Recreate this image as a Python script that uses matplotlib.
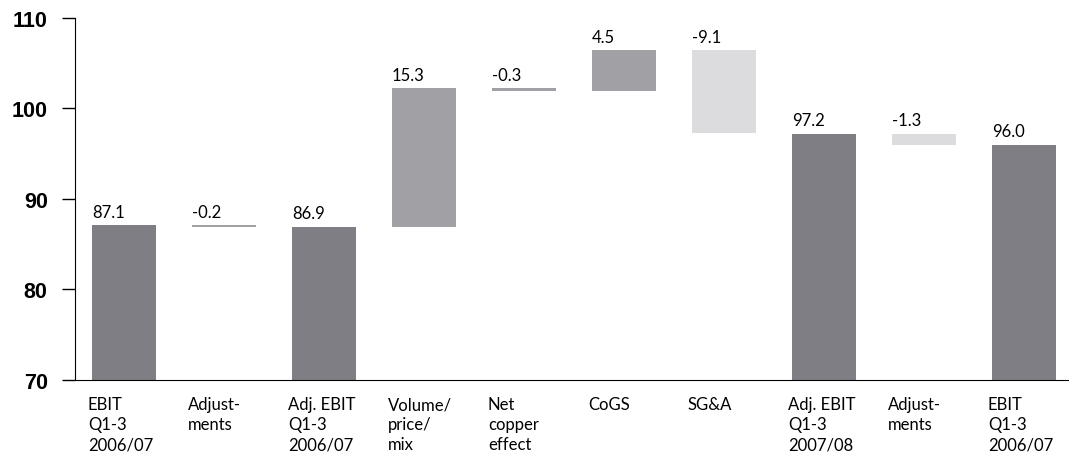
import matplotlib.pyplot as plt

# categories and values (EBIT bridge, EUR m)
categories = ["EBIT\nQ1-3\n2006/07", "Adjust-\nments", "Adj. EBIT\nQ1-3\n2006/07",
              "Volume/\nprice/\nmix", "Net\ncopper\neffect", "CoGS", "SG&A",
              "Adj. EBIT\nQ1-3\n2007/08", "Adjust-\nments", "EBIT\nQ1-3\n2006/07"]
values = [87.1, -0.2, 86.9, 15.3, -0.3, 4.5, -9.1, 97.2, -1.3, 96.0]
is_total = [True, False, True, False, False, False, False, True, False, True]
bar_colors = ["#7f7e84", "#a1a1a5", "#7f7e84", "#a1a1a5", "#a1a1a5",
              "#a1a1a5", "#dcdcde", "#7f7e84", "#dcdcde", "#7f7e84"]
labels = ["87.1", "-0.2", "86.9", "15.3", "-0.3", "4.5", "-9.1", "97.2", "-1.3", "96.0"]

base = 70
fig = plt.figure(figsize=(10.69, 4.60), dpi=100)
ax = fig.add_axes([0.070, 0.172, 0.930, 0.787])

running = 0
for i, v in enumerate(values):
    if is_total[i]:
        bottom, top = base, v
        running = v
    else:
        start = running
        running = running + v
        bottom, top = min(start, running), max(start, running)
    ax.bar(i, top - bottom, bottom=bottom, width=0.64, color=bar_colors[i], zorder=2)
    ax.annotate(labels[i], (i - 0.32, top), xytext=(0, 4), textcoords="offset points",
                ha="left", va="bottom", fontsize=12, family="Lato")

for i, c in enumerate(categories):
    ax.text(i - 0.36, -0.045, c, transform=ax.get_xaxis_transform(), ha="left", va="top",
            fontsize=12, family="Lato", linespacing=1.32)

ax.set_xlim(-0.49, 9.45)
ax.set_ylim(70, 110)
ax.set_yticks([70, 80, 90, 100, 110])
ax.set_xticks([])
ax.tick_params(axis="y", direction="out", length=9.5, width=1, pad=10, labelsize=15.5)
for t in ax.get_yticklabels():
    t.set_fontweight("bold")
    t.set_family("Liberation Sans")
ax.spines["top"].set_visible(False)
ax.spines["right"].set_visible(False)

fig.savefig("out.png", dpi=100)
